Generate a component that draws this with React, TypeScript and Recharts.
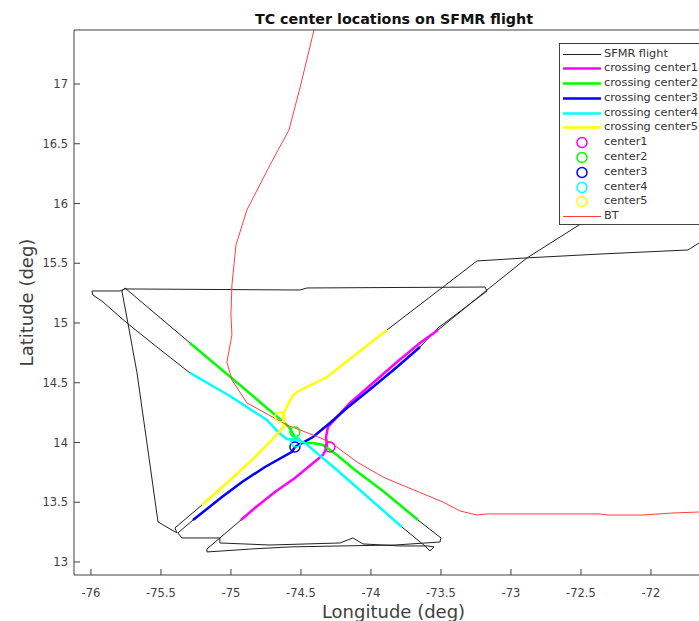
import { ComposedChart, Line, Scatter, XAxis, YAxis, Legend } from 'recharts';

type Pair = [number, number];

const lonTicks = [-76, -75.5, -75, -74.5, -74, -73.5, -73, -72.5, -72];
const latTicks = [13, 13.5, 14, 14.5, 15, 15.5, 16, 16.5, 17];

// each leg is [lon, lat]
const crossing1: Pair[] = [[-73.521, 14.941], [-73.65, 14.833], [-73.814, 14.674], [-73.986, 14.498], [-74.15, 14.331], [-74.243, 14.213], [-74.307, 14.13], [-74.321, 14.046], [-74.314, 13.962], [-74.343, 13.895], [-74.543, 13.703], [-74.686, 13.586], [-74.829, 13.452], [-74.929, 13.351]];
const crossing2: Pair[] = [[-73.664, 13.351], [-73.914, 13.594], [-74.114, 13.77], [-74.243, 13.895], [-74.343, 13.979], [-74.414, 13.996], [-74.486, 13.996], [-74.543, 14.038], [-74.571, 14.105], [-74.6, 14.146], [-74.936, 14.481], [-75.293, 14.833]];
const crossing3: Pair[] = [[-73.65, 14.799], [-73.814, 14.632], [-73.986, 14.464], [-74.171, 14.289], [-74.293, 14.163], [-74.414, 14.046], [-74.543, 13.962], [-74.564, 13.921], [-74.757, 13.795], [-74.921, 13.669], [-75.064, 13.544], [-75.271, 13.351]];
const crossing4: Pair[] = [[-73.779, 13.293], [-74.243, 13.77], [-74.471, 13.996], [-74.521, 14.021], [-74.6, 14.029], [-74.664, 14.088], [-74.743, 14.188], [-75.007, 14.389], [-75.293, 14.582]];
const crossing5: Pair[] = [[-75.207, 13.477], [-75.021, 13.669], [-74.85, 13.854], [-74.707, 14.021], [-74.621, 14.138], [-74.629, 14.238], [-74.564, 14.381], [-74.529, 14.423], [-74.314, 14.548], [-73.886, 14.941]];

const legInbound: Pair[] = [[-72.364, 15.929], [-72.514, 15.82], [-72.886, 15.544], [-73.171, 15.276]];
const legSouth: Pair[] = [[-75.071, 13.209], [-75.171, 13.109], [-75.171, 13.084], [-75.064, 13.092], [-74.85, 13.109], [-74.579, 13.126], [-74.221, 13.134], [-73.829, 13.142], [-73.507, 13.167], [-73.5, 13.201]];
const legWest: Pair[] = [[-75.757, 15.293], [-75.779, 15.268], [-75.736, 15.0], [-75.671, 14.582], [-75.593, 13.937], [-75.521, 13.335], [-75.386, 13.243], [-75.4, 13.285]];
const legOutbound: Pair[] = [[-73.243, 15.519], [-72.9, 15.544], [-72.364, 15.577], [-71.736, 15.611], [-71.657, 15.669]];
const legBottom: Pair[] = [[-75.379, 13.243], [-75.35, 13.201], [-75.079, 13.201], [-75.079, 13.159], [-74.721, 13.142], [-74.221, 13.159], [-74.129, 13.201], [-74.057, 13.151], [-73.793, 13.134], [-73.593, 13.134], [-73.55, 13.126], [-73.579, 13.092], [-73.614, 13.134]];
const legTop: Pair[] = [[-75.529, 14.799], [-75.743, 15.0], [-75.914, 15.176], [-75.986, 15.234], [-75.993, 15.268], [-75.793, 15.268], [-75.757, 15.285], [-74.507, 15.276], [-74.457, 15.293], [-73.186, 15.301], [-73.171, 15.268], [-73.521, 14.958], [-73.65, 14.799]];

const bestTrack: Pair[] = [[-74.407, 17.452], [-74.507, 16.967], [-74.586, 16.615], [-74.721, 16.322], [-74.886, 15.946], [-74.964, 15.653], [-74.993, 15.318], [-75.0, 15.067], [-74.993, 14.9], [-75.029, 14.674], [-74.993, 14.523], [-74.886, 14.331], [-74.664, 14.188], [-74.6, 14.146], [-74.414, 14.063], [-74.293, 14.004], [-74.1, 13.837], [-73.914, 13.711], [-73.814, 13.661], [-73.486, 13.502], [-73.364, 13.427], [-73.243, 13.393], [-73.171, 13.402], [-72.364, 13.402], [-72.314, 13.393], [-72.057, 13.393], [-71.843, 13.41], [-71.657, 13.418]];

const centers: Pair[] = [[-74.293, 13.962], [-74.543, 14.088], [-74.543, 13.962], [-74.536, 14.004], [-74.65, 14.213]];
const centerColors = ['#ff00ff', '#00ff00', '#0000ff', '#00ffff', '#ffff00'];
const crossings = [crossing1, crossing2, crossing3, crossing4, crossing5];

const toPoints = (pairs: Pair[]) => pairs.map(([lon, lat]) => ({ lon, lat }));

const flightMain = toPoints([...legInbound, ...crossing1, ...legSouth, ...crossing2, ...legWest, ...crossing5, ...legOutbound]);
const flightLoop = toPoints([...crossing3, ...legBottom, ...crossing4, ...legTop]);

const font = '"DejaVu Sans", sans-serif';
const axisColor = '#404040';
const tickStyle = { fontSize: 11.5, fill: axisColor, fontFamily: font };

function CenterMark(props: any) {
  return <circle cx={props.cx} cy={props.cy} r={5} fill="none" stroke={props.stroke} strokeWidth={1.5} />;
}

function LegendBox({ payload }: any) {
  const rows = (payload ?? []).filter((entry: any) => entry.value !== 'loop');
  return (
    <div style={{ width: 160, height: 182, boxSizing: 'border-box', border: '1px solid #404040', background: '#fff', paddingTop: 2.5, fontFamily: font, fontSize: 11.3, color: '#333' }}>
      {rows.map((entry: any) => (
        <div key={entry.value} style={{ height: 14.8, lineHeight: '14.8px', position: 'relative', whiteSpace: 'nowrap' }}>
          <svg width={42} height={14} style={{ position: 'absolute', left: 3, top: 0 }}>
            {entry.type === 'circle' ? (
              <circle cx={19} cy={7.5} r={5} fill="none" stroke={entry.payload?.stroke ?? entry.color} strokeWidth={1.5} />
            ) : (
              <line x1={0} x2={38} y1={7.5} y2={7.5} stroke={entry.color} strokeWidth={entry.payload?.strokeWidth ?? 1} />
            )}
          </svg>
          <span style={{ position: 'absolute', left: 44 }}>{entry.value}</span>
        </div>
      ))}
    </div>
  );
}

export default function App() {
  return (
    <div style={{ position: 'absolute', left: 0, top: 0, width: 699, height: 621, overflow: 'hidden', background: '#fff' }}>
      <div style={{ position: 'absolute', left: 0, width: 788, top: 11, textAlign: 'center', fontFamily: font, fontWeight: 'bold', fontSize: 14.3, lineHeight: '16px', color: '#111' }}>
        TC center locations on SFMR flight
      </div>
      <ComposedChart width={699} height={621} margin={{ top: 0, right: 0, bottom: 0, left: 0 }}>
        <XAxis
          dataKey="lon"
          type="number"
          domain={[-76.121, -71.657]}
          ticks={lonTicks}
          allowDataOverflow
          interval={0}
          height={46}
          stroke={axisColor}
          tick={tickStyle}
          tickSize={-6}
          tickMargin={20}
          label={{ value: 'Longitude (deg)', position: 'insideBottom', offset: 3, fontSize: 18, fill: axisColor, fontFamily: font, dx: 7 }}
        />
        <XAxis
          xAxisId="top"
          orientation="top"
          type="number"
          domain={[-76.121, -71.657]}
          ticks={lonTicks}
          allowDataOverflow
          interval={0}
          height={30}
          stroke={axisColor}
          tickFormatter={() => ''}
          tickSize={-6}
        />
        <YAxis
          dataKey="lat"
          type="number"
          domain={[12.891, 17.452]}
          ticks={latTicks}
          allowDataOverflow
          interval={0}
          width={74}
          stroke={axisColor}
          tick={tickStyle}
          tickSize={-6}
          tickMargin={12}
          label={{ value: 'Latitude (deg)', angle: -90, position: 'insideLeft', offset: 27, fontSize: 18, fill: axisColor, fontFamily: font, style: { textAnchor: 'middle' } }}
        />
        <Legend
          layout="vertical"
          align="center"
          verticalAlign="middle"
          itemSorter={null}
          content={<LegendBox />}
          wrapperStyle={{ position: 'absolute', left: 559, top: 43, width: 160, height: 182 }}
        />
        <Line data={flightMain} dataKey="lat" name="SFMR flight" stroke="#222" strokeWidth={1} dot={false} activeDot={false} isAnimationActive={false} />
        <Line data={flightLoop} dataKey="lat" name="loop" stroke="#222" strokeWidth={1} dot={false} activeDot={false} isAnimationActive={false} />
        {crossings.map((leg, i) => (
          <Line key={i} data={toPoints(leg)} dataKey="lat" name={`crossing center${i + 1}`} stroke={centerColors[i]} strokeWidth={2.5} dot={false} activeDot={false} isAnimationActive={false} />
        ))}
        {centers.map((c, i) => (
          <Scatter key={i} data={toPoints([c])} dataKey="lat" name={`center${i + 1}`} fill="none" stroke={centerColors[i]} shape={<CenterMark />} isAnimationActive={false} />
        ))}
        <Line data={toPoints(bestTrack)} dataKey="lat" name="BT" stroke="#ff4040" strokeWidth={1} dot={false} activeDot={false} isAnimationActive={false} />
      </ComposedChart>
    </div>
  );
}
